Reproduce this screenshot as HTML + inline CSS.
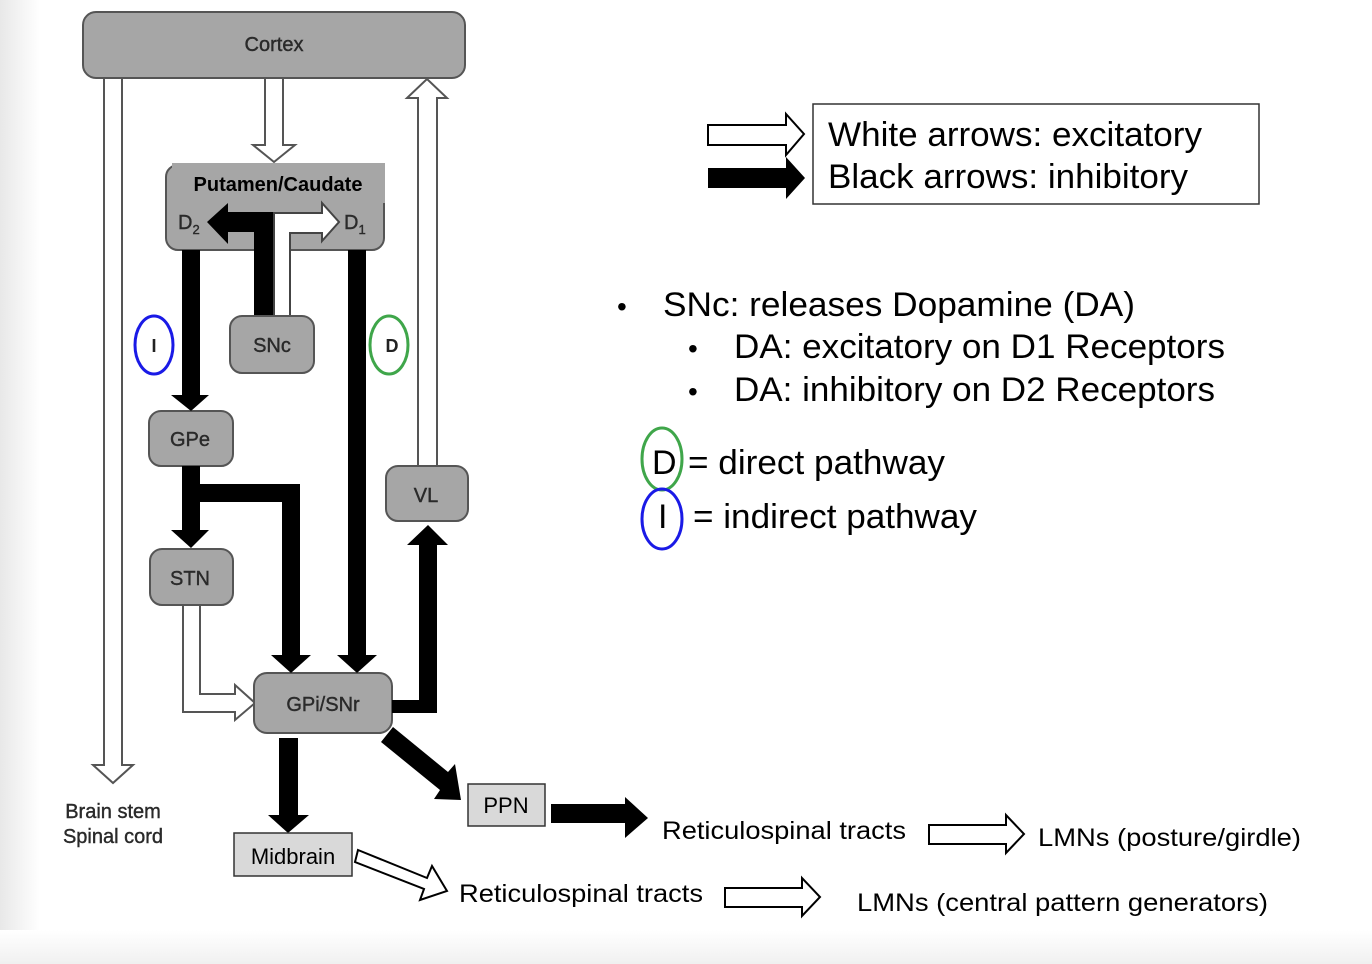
<!DOCTYPE html>
<html><head><meta charset="utf-8"><style>
html,body{margin:0;padding:0;background:#fff;}
svg{display:block;}
text{font-family:"Liberation Sans",Arial,sans-serif;}
</style></head><body>
<svg width="1372" height="964" viewBox="0 0 1372 964" xmlns="http://www.w3.org/2000/svg">
<defs>
<linearGradient id="lg" x1="0" x2="1" y1="0" y2="0"><stop offset="0" stop-color="#e8e8e8"/><stop offset="1" stop-color="#fff"/></linearGradient>
<linearGradient id="bg" x1="0" x2="0" y1="0" y2="1"><stop offset="0" stop-color="#fff"/><stop offset="1" stop-color="#f0f0f0"/></linearGradient>
</defs>
<rect x="0" y="0" width="40" height="964" fill="url(#lg)"/>
<rect x="0" y="930" width="1372" height="34" fill="url(#bg)"/>

<g stroke="#555" stroke-width="2" fill="#fff">
<path d="M104 78 V765 H93 L113 783 L133 765 H122 V78"/>
<path d="M265 78 V145 H253 L274 162 L295 145 H283 V78"/>
<path d="M418 466 V98 H407 L427 79 L447 98 H437 V466"/>
<path d="M183 605 V712 H235 V720 L255 703 L235 685 V694 H200 V605"/>
</g>

<g fill="#a6a6a6" stroke="#555" stroke-width="2">
<rect x="83" y="12" width="382" height="66" rx="13"/>
<rect x="166" y="165" width="218" height="85" rx="12"/>
<rect x="230" y="316" width="84" height="57" rx="12"/>
<rect x="149" y="411" width="84" height="55" rx="12"/>
<rect x="150" y="549" width="83" height="56" rx="12"/>
<rect x="386" y="466" width="82" height="55" rx="12"/>
<rect x="254" y="673" width="138" height="60" rx="13"/>
</g>
<rect x="172" y="163" width="213" height="40" fill="#a6a6a6"/>

<path d="M274 315 V213 H322 V203 L339 222 L322 241 V233 H290 V315" fill="#fff" stroke="#444" stroke-width="2"/>
<path d="M254 315 V232 H228 V244 L207 222 L228 203 V212 H273 V315 Z" fill="#000"/>

<g fill="#000">
<path d="M182 250 V395 H171 L191 411 L209 395 H200 V250Z"/>
<path d="M182 466 V530 H171 L191 548 L209 530 H200 V502 H282 V655 H271 L291 673 L311 655 H300 V484 H200 V466Z"/>
<path d="M348 250 V655 H337 L357 673 L377 655 H366 V250Z"/>
<path d="M392 700 H419 V545 H407 L428 525 L448 545 H437 V713 H392Z"/>
<path d="M279 738 V815 H268 L288 833 L309 815 H298 V738Z"/>
<path d="M393 727 L448 772 L455 764 L461 800 L434 799 L440 790 L381 742 Z"/>
<path d="M551 804 H625 V797 L648 818 L625 838 V823 H551Z"/>
<path d="M708 168 H786 V157 L805 178 L786 199 V188 H708Z"/>
</g>

<g fill="#fff" stroke="#000" stroke-width="2">
<path d="M708 125 H786 V114 L804 134 L786 155 V145 H708Z"/>
<path d="M929 825 H1006 V815 L1024 834 L1006 853 V844 H929Z"/>
<path d="M725 888 H802 V878 L820 897 L802 916 V907 H725Z"/>
<path d="M358 850 L427 878 L432 866 L447 891 L420 900 L424 889 L355 862Z"/>
</g>

<g fill="#d9d9d9" stroke="#333" stroke-width="1.5">
<rect x="234" y="833" width="118" height="43"/>
<rect x="468" y="784" width="77" height="42"/>
</g>

<g fill="none" stroke-width="3">
<ellipse cx="154" cy="345" rx="19" ry="29" stroke="#1a1ae6"/>
<ellipse cx="389" cy="345" rx="19" ry="29" stroke="#3fa64a"/>
<ellipse cx="662" cy="459" rx="20" ry="31" stroke="#3fa64a"/>
<ellipse cx="662" cy="519" rx="20" ry="30" stroke="#1a1ae6"/>
</g>

<g fill="#2a2a2a" font-size="20" stroke="#2a2a2a" stroke-width="0.4">
<text x="274" y="51" text-anchor="middle">Cortex</text>
<text x="272" y="352" text-anchor="middle">SNc</text>
<text x="190" y="446" text-anchor="middle">GPe</text>
<text x="190" y="585" text-anchor="middle">STN</text>
<text x="426" y="502" text-anchor="middle">VL</text>
<text x="323" y="711" text-anchor="middle">GPi/SNr</text>
<text x="178" y="229">D<tspan font-size="13" dy="5">2</tspan></text>
<text x="344" y="229">D<tspan font-size="13" dy="5">1</tspan></text>
<text x="113" y="818" text-anchor="middle">Brain stem</text>
<text x="113" y="843" text-anchor="middle">Spinal cord</text>
</g>
<text x="278" y="191" text-anchor="middle" font-size="20" font-weight="bold" fill="#000">Putamen/Caudate</text>
<text x="154" y="352" text-anchor="middle" font-size="18" font-weight="bold" fill="#222">I</text>
<text x="392" y="352" text-anchor="middle" font-size="18" font-weight="bold" fill="#222">D</text>

<g fill="#000" font-size="22">
<text x="293" y="864" text-anchor="middle">Midbrain</text>
<text x="506" y="813" text-anchor="middle">PPN</text>
<text x="662" y="839" font-size="25" textLength="244" lengthAdjust="spacingAndGlyphs">Reticulospinal tracts</text>
<text x="1038" y="846" font-size="25" textLength="263" lengthAdjust="spacingAndGlyphs">LMNs (posture/girdle)</text>
<text x="459" y="902" font-size="25" textLength="244" lengthAdjust="spacingAndGlyphs">Reticulospinal tracts</text>
<text x="857" y="911" font-size="25" textLength="411" lengthAdjust="spacingAndGlyphs">LMNs (central pattern generators)</text>
</g>

<rect x="813" y="104" width="446" height="100" fill="#fff" stroke="#333" stroke-width="1.5"/>
<g fill="#000" font-size="34">
<text x="828" y="146" textLength="374" lengthAdjust="spacingAndGlyphs">White arrows: excitatory</text>
<text x="828" y="188" textLength="360" lengthAdjust="spacingAndGlyphs">Black arrows: inhibitory</text>
<text x="617" y="316" font-size="28">•</text>
<text x="663" y="316" textLength="472" lengthAdjust="spacingAndGlyphs">SNc: releases Dopamine (DA)</text>
<text x="688" y="358" font-size="28">•</text>
<text x="734" y="358" textLength="491" lengthAdjust="spacingAndGlyphs">DA: excitatory on D1 Receptors</text>
<text x="688" y="401" font-size="28">•</text>
<text x="734" y="401" textLength="481" lengthAdjust="spacingAndGlyphs">DA: inhibitory on D2 Receptors</text>
<text x="652" y="474">D</text>
<text x="688" y="474" textLength="257" lengthAdjust="spacingAndGlyphs">= direct pathway</text>
<text x="658" y="528">I</text>
<text x="693" y="528" textLength="284" lengthAdjust="spacingAndGlyphs">= indirect pathway</text>
</g>
</svg>
</body></html>
